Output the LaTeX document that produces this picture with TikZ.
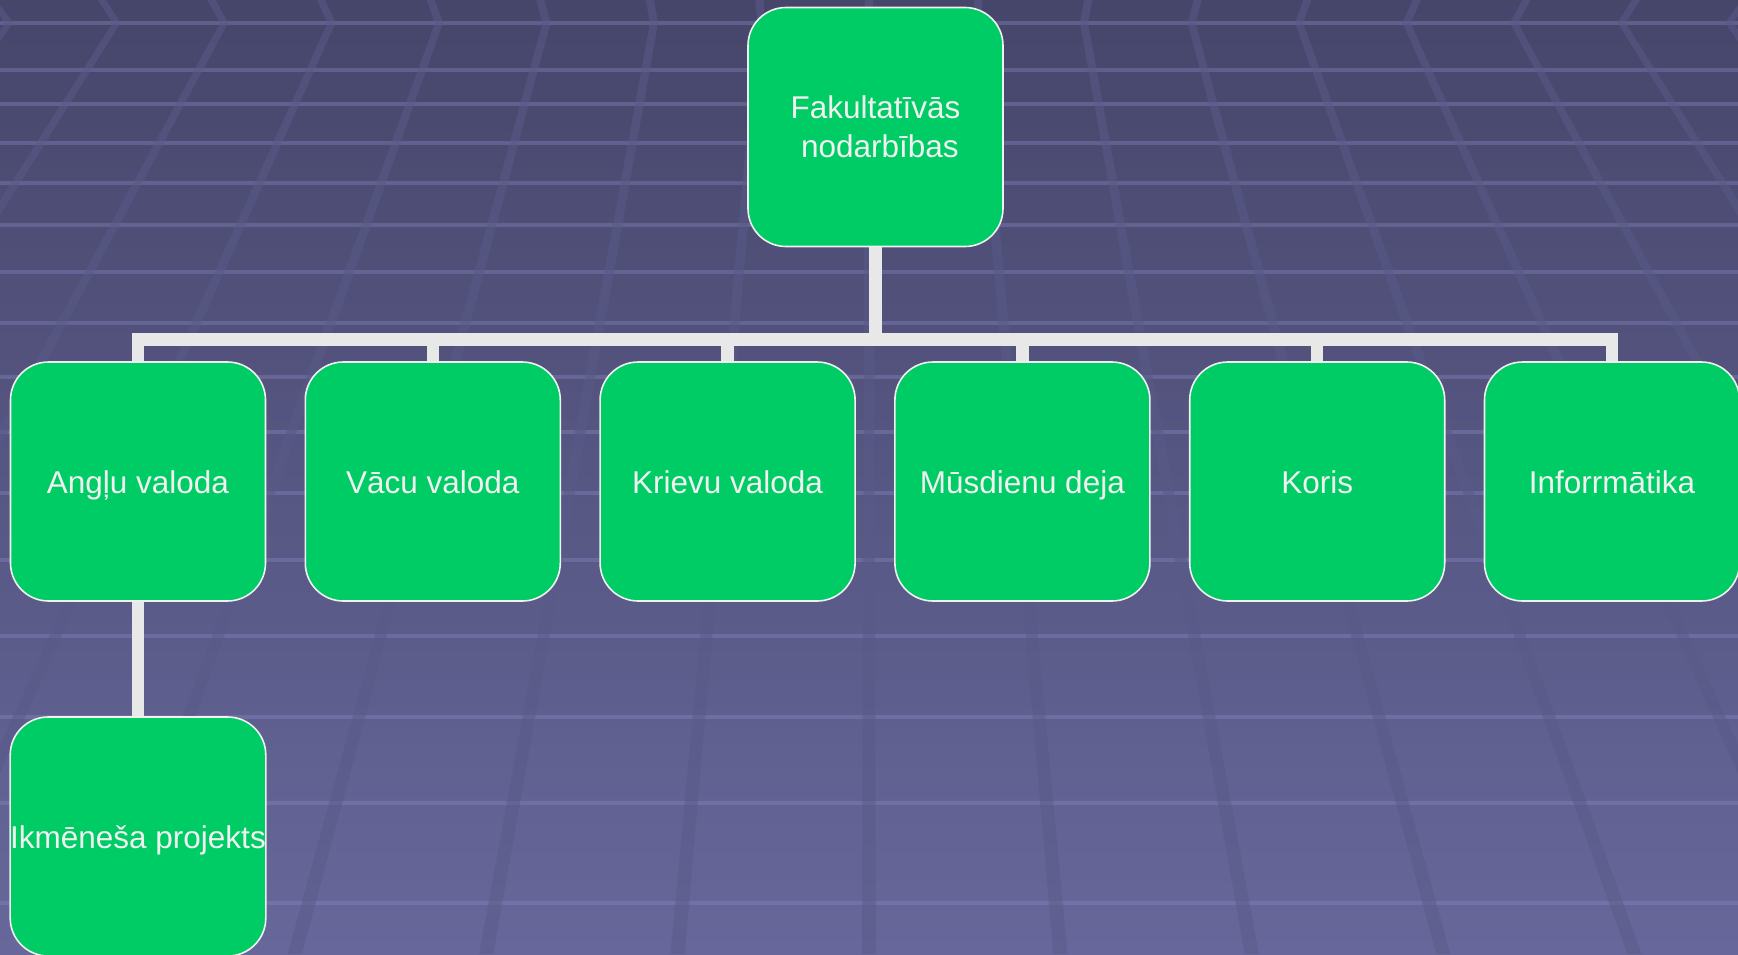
\documentclass[tikz,border=0pt]{standalone}
\usepackage{fontspec}
\setmainfont{Liberation Sans}
\definecolor{bgtop}{RGB}{70,70,107}
\definecolor{bgmid}{RGB}{86,86,128}
\definecolor{bgbot}{RGB}{103,103,155}
\definecolor{hline}{RGB}{140,140,200}
\definecolor{sline}{RGB}{90,90,137}
\definecolor{boxfill}{RGB}{0,204,102}
\definecolor{boxline}{RGB}{240,240,240}
\definecolor{conncol}{RGB}{232,232,232}
\definecolor{txt}{RGB}{240,240,240}
\pgfdeclarelayer{bg}
\pgfdeclarelayer{conn}
\pgfsetlayers{bg,conn,main}
\begin{document}
\begin{tikzpicture}[x=1pt,y=-1pt,
  box/.style={draw=boxline, line width=1.6pt, fill=boxfill, rounded corners=38pt,
    minimum width=255pt, minimum height=239pt, inner sep=0pt, text=txt, align=center,
    font=\fontsize{31.5}{39}\selectfont},
  single/.style={text height=23pt, text depth=0pt},
  conn/.style={draw=conncol, line width=12.5pt}]
\useasboundingbox (0,0) rectangle (1738,954);
\begin{pgfonlayer}{bg}
\begin{scope}
\clip (0,0) rectangle (1738,954);
\shade[top color=bgtop, middle color=bgmid, bottom color=bgbot] (0,0) rectangle (1738,954);
\foreach \y in {23,70,104,143,183,225,272,323,377,432,493,560,636,717,803,903}
  \draw[hline, opacity=0.35, line width=4pt] (0,\y) -- (1738,\y);
\foreach \k in {-9,...,9} {
  \fill[sline, opacity=0.5] ({869+107.5*\k-4},23) -- ({869+107.5*\k+4},23)
     -- ({869+(107.5*\k+4)*1.7804},954) -- ({869+(107.5*\k-4)*1.7804},954) -- cycle;
  \fill[sline, opacity=0.5] ({869+107.5*\k-4},23) -- ({869+107.5*\k+4},23)
     -- ({869+(107.5*\k+4)*1.0193},0) -- ({869+(107.5*\k-4)*1.0193},0) -- cycle;
}
\end{scope}
\end{pgfonlayer}

\node[box] (top) at (875.5,127) {Fakultatīvās\\\hspace*{0.28em}nodarbības};
\node[box, single] (c1) at (138,481.5) {Angļu valoda};
\node[box, single] (c2) at (432.8,481.5) {Vācu valoda};
\node[box, single] (c3) at (727.6,481.5) {Krievu valoda};
\node[box, single] (c4) at (1022.4,481.5) {Mūsdienu deja};
\node[box, single] (c5) at (1317.2,481.5) {Koris};
\node[box, single] (c6) at (1612,481.5) {Inforrmātika};
\node[box, single] (sub) at (138,836.5) {Ikmēneša projekts};
\coordinate (bus) at (875,339.5);

\begin{pgfonlayer}{conn}
\foreach \c in {c1,c2,c3,c4,c5,c6}
  \draw[conn] (top.south) |- (\c.north |- bus) -- (\c.north);
\draw[conn] (c1.south) -- (sub.north);
\end{pgfonlayer}
\end{tikzpicture}
\end{document}
